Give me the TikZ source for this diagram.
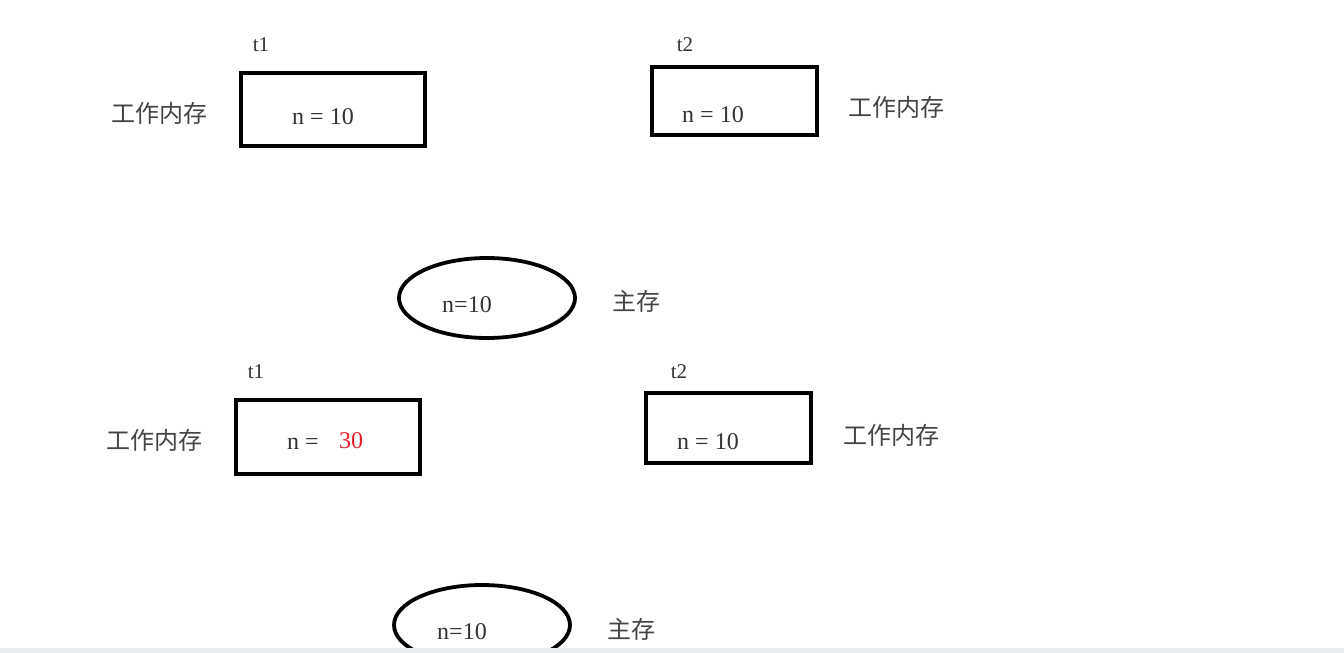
\documentclass[tikz,border=0pt]{standalone}
\usepackage{fontspec}
\setmainfont{Liberation Serif}
\newfontfamily\cjk{Noto Sans CJK SC}[Scale=1]
\usetikzlibrary{shapes.geometric}
\definecolor{txt}{HTML}{333333}
\definecolor{cjkgray}{HTML}{444444}
\definecolor{barcol}{HTML}{E9EDF1}
\definecolor{redtxt}{HTML}{E8202A}
\tikzset{
  mem/.style={draw=black, line width=4.2pt, rectangle, inner sep=0pt},
  mainmem/.style={draw=black, line width=3.8pt, ellipse, inner sep=0pt},
  lbl/.style={text=txt, font=\fontsize{21}{23}\selectfont, inner sep=0pt},
  val/.style={text=txt, font=\fontsize{24}{26}\selectfont, inner sep=0pt},
  cjklbl/.style={text=cjkgray, font=\cjk\fontsize{24}{26}\selectfont, inner sep=0pt},
}
\begin{document}
\begin{tikzpicture}[x=1pt,y=-1pt]
\useasboundingbox (0,0) rectangle (1344,653);
\fill[white] (0,0) rectangle (1344,653);
% ---------- top scene ----------
\node[mem, minimum width=184pt, minimum height=73pt] (b1) at (333,109.5) {};
\node[val] (v1) at (323,117) {n = 10};
\node[lbl] (t1a) at (261,45) {t1};
\node[cjklbl] (w1) at (159,113) {工作内存};
\node[mem, minimum width=165pt, minimum height=68pt] (b2) at (734.5,101) {};
\node[val] (v2) at (713,115) {n = 10};
\node[lbl] (t2a) at (685,45) {t2};
\node[cjklbl] (w2) at (896,107) {工作内存};
\node[mainmem, minimum width=176pt, minimum height=80pt] (e1) at (487,298) {};
\node[val] (m1) at (467,305) {n=10};
\node[cjklbl] (z1) at (636,301) {主存};
% ---------- bottom scene ----------
\node[mem, minimum width=184pt, minimum height=74pt] (b3) at (328,437) {};
\node[val] (v3) at (303,444) {n =};
\node[val, text=redtxt] (r3) at (351,441) {30};
\node[lbl] (t1b) at (256,372) {t1};
\node[cjklbl] (w3) at (154,440) {工作内存};
\node[mem, minimum width=165pt, minimum height=70pt] (b4) at (728.5,428) {};
\node[val] (v4) at (708,442) {n = 10};
\node[lbl] (t2b) at (679,372) {t2};
\node[cjklbl] (w4) at (891,435) {工作内存};
\node[mainmem, minimum width=176pt, minimum height=80pt] (e2) at (482,625) {};
\node[val] (m2) at (462,632) {n=10};
\node[cjklbl] (z2) at (631,629) {主存};
% bottom bar
\fill[barcol] (0,648) rectangle (1344,653);
\end{tikzpicture}
\end{document}
